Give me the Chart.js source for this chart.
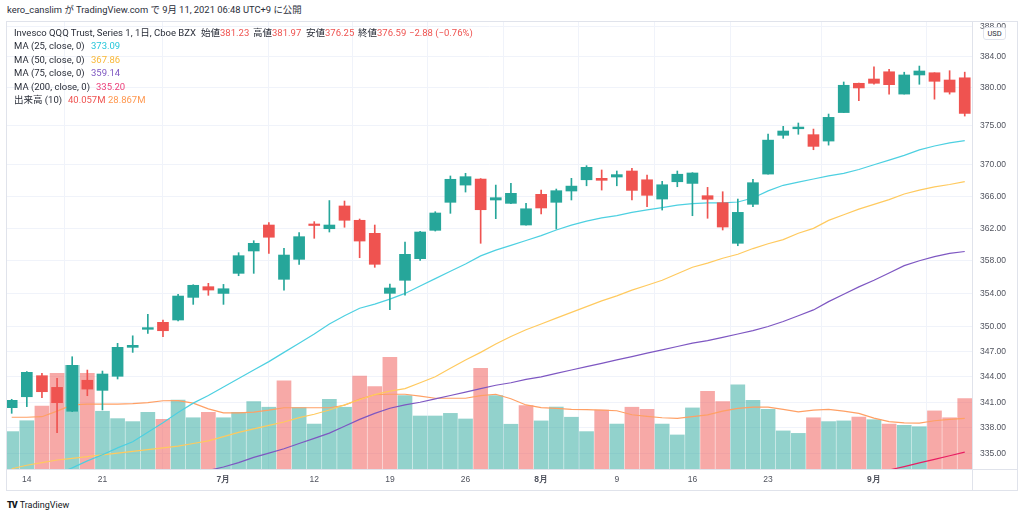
<!DOCTYPE html>
<html lang="ja">
<head>
  <meta charset="UTF-8">
  <title>QQQ 1日</title>
  <style>
    body { margin: 0; background: #fff; font-family: Roboto, "Noto Sans CJK JP", sans-serif; color: #131722; }
    #hdr { position: absolute; left: 7px; top: 4px; font-size: 9.4px; line-height: 12px; white-space: nowrap; color: #2a2e39; }
    #frame { position: absolute; left: 6px; top: 21px; width: 1010px; height: 468px; border: 1px solid #e0e3eb; }
    .hl { position: absolute; left: 7px; top: 469px; width: 1010px; height: 1px; background: #e0e3eb; }
    .vl { position: absolute; left: 972px; top: 22px; width: 1px; height: 468px; background: #e0e3eb; }
    #wrap { position: absolute; left: 7px; top: 22px; width: 1010px; height: 468px; }
    .lg { position: absolute; font-size: 9.5px; line-height: 12px; white-space: nowrap; color: #2a2e39; }
    #usd { position: absolute; left: 983px; top: 27px; width: 21px; height: 11px; border: 1px solid #e0e3eb; border-radius: 3px;
           font-size: 7.5px; line-height: 11px; text-align: center; color: #2a2e39; background: #fff; }
    #logo { position: absolute; left: 7px; top: 499px; font-size: 9px; line-height: 12px; white-space: nowrap; color: #131722; }
    #logo b { font-weight: 900; letter-spacing: -1px; margin-right: 3px; }
  </style>
</head>
<body>
  <div id="hdr">kero_canslim が TradingView.com で 9月 11, 2021 06:48 UTC+9 に公開</div>
  <div id="frame"></div>
  <div id="wrap"><canvas id="myChart"></canvas></div>
  <div class="hl"></div>
  <div class="vl"></div>
  <div id="usd">USD</div>

  <div class="lg" style="left:14px;top:27px">Invesco QQQ Trust, Series 1, 1日, Cboe BZX</div>
  <div class="lg" style="left:201px;top:27px">始値<span style="color:#ef5350">381.23</span></div>
  <div class="lg" style="left:253px;top:27px">高値<span style="color:#ef5350">381.97</span></div>
  <div class="lg" style="left:306px;top:27px">安値<span style="color:#ef5350">376.25</span></div>
  <div class="lg" style="left:358px;top:27px">終値<span style="color:#ef5350">376.59</span></div>
  <div class="lg" style="left:409px;top:27px;color:#ef5350">−2.88 (−0.76%)</div>

  <div class="lg" style="left:14px;top:40px">MA (25, close, 0)</div>
  <div class="lg" style="left:91px;top:40px;color:#26c6da">373.09</div>
  <div class="lg" style="left:14px;top:54px">MA (50, close, 0)</div>
  <div class="lg" style="left:91px;top:54px;color:#f9b838">367.86</div>
  <div class="lg" style="left:14px;top:67px">MA (75, close, 0)</div>
  <div class="lg" style="left:91px;top:67px;color:#7e57c2">359.14</div>
  <div class="lg" style="left:14px;top:81px">MA (200, close, 0)</div>
  <div class="lg" style="left:96px;top:81px;color:#ec407a">335.20</div>
  <div class="lg" style="left:14px;top:94px">出来高 (10)</div>
  <div class="lg" style="left:68px;top:94px;color:#ef5350">40.057M</div>
  <div class="lg" style="left:108px;top:94px;color:#ff9850">28.867M</div>

  <div id="logo"><b>TV</b>TradingView</div>

  <script src="https://cdn.jsdelivr.net/npm/chart.js"></script>
  <script>
    const dates = [
      '06-11', '06-14', '06-15', '06-16', '06-17', '06-18', '06-21', '06-22', '06-23', '06-24', '06-25',
      '06-28', '06-29', '06-30', '07-01', '07-02', '07-06', '07-07', '07-08', '07-09', '07-12', '07-13',
      '07-14', '07-15', '07-16', '07-19', '07-20', '07-21', '07-22', '07-23', '07-26', '07-27', '07-28',
      '07-29', '07-30', '08-02', '08-03', '08-04', '08-05', '08-06', '08-09', '08-10', '08-11', '08-12',
      '08-13', '08-16', '08-17', '08-18', '08-19', '08-20', '08-23', '08-24', '08-25', '08-26', '08-27',
      '08-30', '08-31', '09-01', '09-02', '09-03', '09-07', '09-08', '09-09', '09-10'
    ];
    const openP = [
      340.37, 341.65, 344.13, 342.75, 339.95, 343.59, 342.40, 344.06, 347.50, 349.66, 350.50,
      350.78, 353.52, 354.82, 354.00, 356.45, 359.20, 362.42, 355.72, 358.17, 362.51, 361.96,
      364.80, 363.01, 361.39, 354.01, 355.60, 358.25, 361.76, 365.26, 367.43, 368.19, 365.55,
      365.13, 362.42, 366.26, 365.26, 366.68, 368.10, 368.28, 368.45, 369.21, 368.10, 365.67,
      367.85, 367.64, 366.09, 365.21, 360.15, 365.01, 368.82, 373.77, 374.61, 373.85, 373.03,
      376.70, 380.51, 381.07, 382.02, 379.10, 381.60, 381.89, 380.94, 381.23
    ];
    const highP = [
      341.35, 344.62, 344.41, 343.82, 346.38, 344.80, 344.68, 347.98, 348.88, 351.47, 350.78,
      353.89, 355.06, 355.23, 355.10, 358.99, 360.47, 362.71, 359.53, 361.47, 362.84, 365.48,
      365.42, 363.17, 362.42, 355.15, 360.30, 361.64, 364.08, 368.58, 368.92, 368.25, 367.43,
      367.64, 365.13, 366.80, 366.93, 368.28, 369.89, 369.34, 369.21, 369.55, 368.70, 367.90,
      369.21, 369.00, 367.14, 366.59, 365.67, 368.16, 373.92, 374.92, 375.35, 374.57, 376.51,
      380.68, 380.55, 382.68, 382.34, 381.96, 382.77, 381.89, 382.16, 381.97
    ];
    const lowP = [
      339.71, 340.49, 341.54, 337.45, 339.90, 341.77, 340.10, 343.74, 346.90, 349.18, 348.77,
      350.66, 352.67, 353.77, 352.67, 356.16, 356.45, 358.91, 354.41, 357.56, 360.77, 361.55,
      362.14, 358.37, 357.19, 352.02, 353.80, 358.05, 361.67, 363.88, 366.55, 360.15, 363.21,
      365.10, 362.40, 363.79, 361.93, 365.55, 367.34, 366.80, 367.34, 365.55, 364.71, 364.29,
      367.22, 363.58, 363.26, 361.80, 359.85, 364.71, 368.80, 373.38, 373.90, 371.92, 372.51,
      376.70, 378.26, 380.38, 379.10, 379.10, 380.38, 378.44, 379.10, 376.25
    ];
    const closeP = [
      341.23, 344.53, 342.24, 340.95, 345.36, 342.55, 344.33, 347.50, 347.74, 349.86, 349.49,
      353.68, 354.99, 354.41, 354.57, 358.62, 360.15, 360.90, 358.70, 360.97, 362.36, 362.42,
      363.01, 360.43, 357.56, 354.66, 358.79, 361.55, 363.92, 368.16, 368.49, 364.33, 365.84,
      366.39, 364.45, 364.55, 366.72, 367.30, 369.68, 368.03, 368.75, 366.76, 366.14, 367.47,
      368.80, 368.96, 365.64, 362.17, 364.00, 367.73, 373.15, 374.32, 374.83, 372.35, 376.08,
      380.25, 379.90, 380.51, 380.33, 381.60, 382.12, 380.77, 379.36, 376.59
    ];
    // volume in millions, and bar colour as read (1 = up, 0 = down)
    const volume = [
      21.3, 27.5, 35.9, 54.5, 59.1, 54.5, 32.9, 28.7, 27.0, 32.3, 28.3,
      39.3, 29.2, 32.3, 29.2, 32.3, 38.4, 35.2, 50.3, 35.0, 25.6, 39.7,
      35.2, 53.0, 46.9, 63.6, 41.8, 30.2, 30.2, 31.7, 28.5, 57.4, 41.8,
      25.5, 36.1, 27.4, 35.3, 29.5, 21.3, 33.6, 25.6, 35.2, 34.0, 25.6,
      19.4, 34.8, 44.3, 38.4, 47.9, 39.1, 34.0, 21.7, 20.3, 29.2, 27.0,
      27.4, 29.6, 28.1, 25.6, 24.9, 24.1, 33.1, 29.2, 40.057
    ];
    const volUp = [
      1, 1, 0, 0, 1, 0, 1, 1, 1, 1, 0,
      1, 1, 0, 1, 1, 1, 1, 0, 1, 1, 1,
      1, 0, 0, 0, 1, 1, 1, 1, 1, 0, 1,
      1, 0, 1, 1, 1, 1, 0, 1, 0, 0, 1,
      1, 1, 0, 0, 1, 1, 1, 1, 1, 0, 1,
      1, 0, 1, 0, 1, 1, 0, 0, 0
    ];
    const ma25 = [
      null, null, null, 332.7, 333.4, 334.2, 334.9, 335.7, 336.4, 337.5, 338.6,
      339.8, 340.9, 341.8, 342.8, 343.8, 344.8, 345.8, 346.9, 348.0, 349.1, 350.3,
      351.3, 352.2, 352.7, 353.3, 354.0, 354.9, 355.8, 356.7, 357.6, 358.6, 359.3,
      359.9, 360.5, 361.1, 361.8, 362.4, 362.9, 363.3, 363.6, 364.0, 364.3, 364.6,
      364.9, 365.1, 365.2, 365.2, 365.3, 365.8, 366.7, 367.4, 367.8, 368.2, 368.6,
      368.9, 369.4, 370.0, 370.6, 371.2, 371.9, 372.4, 372.8, 373.09
    ];
    const ma50 = [
      333.3, 333.7, 334.0, 334.3, 334.5, 334.7, 334.9, 335.1, 335.3, 335.5, 335.7,
      335.9, 336.2, 336.5, 337.0, 337.5, 337.9, 338.3, 338.7, 339.2, 339.6, 340.1,
      340.7, 341.3, 341.9, 342.3, 342.6, 343.3, 344.0, 345.0, 346.0, 346.9, 347.9,
      348.8, 349.6, 350.3, 351.0, 351.7, 352.4, 353.1, 353.7, 354.4, 355.0, 355.6,
      356.4, 357.2, 357.7, 358.3, 358.8, 359.5, 360.1, 360.6, 361.4, 362.0, 363.0,
      363.7, 364.4, 365.0, 365.6, 366.3, 366.8, 367.2, 367.5, 367.86
    ];
    const ma75 = [
      null, null, null, null, null, null, null, null, null, null, null,
      null, 332.7, 333.1, 333.5, 334.0, 334.6, 335.1, 335.6, 336.2, 336.8, 337.4,
      338.2, 339.0, 339.7, 340.3, 340.7, 341.0, 341.4, 341.8, 342.2, 342.6, 343.0,
      343.3, 343.7, 344.0, 344.4, 344.8, 345.2, 345.6, 346.0, 346.4, 346.8, 347.2,
      347.6, 348.0, 348.3, 348.7, 349.1, 349.5, 350.0, 350.6, 351.3, 352.0, 353.0,
      353.9, 354.8, 355.6, 356.5, 357.4, 358.0, 358.5, 358.9, 359.14
    ];
    const ma200 = [
      null, null, null, null, null, null, null, null, null, null, null,
      null, null, null, null, null, null, null, null, null, null, null,
      null, null, null, null, null, null, null, null, null, null, null,
      null, null, null, null, null, null, null, null, null, null, null,
      null, null, null, null, null, null, null, null, null, null, null,
      null, null, 332.74, 333.15, 333.55, 333.97, 334.38, 334.79, 335.20
    ];
    const volMa = [
      29.5, 29.5, 29.8, 33.0, 36.5, 37.0, 37.0, 37.0, 37.3, 37.8, 38.9,
      39.0, 37.5, 34.3, 32.0, 32.0, 32.4, 33.5, 34.9, 34.9, 34.9, 34.9,
      36.3, 39.8, 42.3, 42.6, 42.6, 41.5, 40.3, 40.3, 40.3, 41.8, 42.6,
      40.0, 36.5, 35.0, 34.5, 34.0, 33.8, 33.6, 33.2, 30.9, 30.0, 29.2,
      28.9, 29.8, 30.8, 33.0, 34.5, 35.3, 35.3, 34.0, 32.6, 33.5, 34.0,
      33.0, 31.7, 29.0, 27.0, 26.3, 26.1, 27.5, 28.3, 28.87
    ];
    const priceTicks = [335, 338, 341, 344, 347, 350, 354, 358, 362, 366, 370, 375, 380, 384, 388];
    const tickDates = ['06-14', '06-21', '07-01', '07-12', '07-19', '07-26', '08-02', '08-09', '08-16', '08-23', '09-01'];
    const tickLabels = ['14', '21', '7月', '12', '19', '26', '8月', '9', '16', '23', '9月'];

    const UP = '#26a69a';
    const DOWN = '#ef5350';
    const tickIdx = tickDates.map(d => dates.indexOf(d));
    const candleColors = closeP.map((c, i) => c >= openP[i] ? UP : DOWN);
    const volColors = volUp.map(u => u ? 'rgba(38,166,154,0.5)' : 'rgba(239,83,80,0.5)');
    const pts = arr => arr.map((v, i) => v == null ? null : { x: i, y: v }).filter(p => p);

    const lineDs = (data, color, axis, order) => ({
      type: 'line', data: pts(data), borderColor: color, borderWidth: 1.2,
      pointRadius: 0, tension: 0, yAxisID: axis, order: order
    });

    const ctx = document.getElementById('myChart').getContext('2d');
    new Chart(ctx, {
      type: 'bar',
      data: {
        datasets: [
          {
            data: dates.map((d, i) => ({ x: i, y: [openP[i], closeP[i]] })),
            backgroundColor: candleColors, barThickness: 11, minBarLength: 1.5,
            grouped: false, yAxisID: 'y', order: 1
          },
          {
            data: dates.map((d, i) => ({ x: i, y: [lowP[i], highP[i]] })),
            backgroundColor: candleColors, barThickness: 1,
            grouped: false, yAxisID: 'y', order: 2
          },
          lineDs(ma25, '#4dd0e1', 'y', 5),
          lineDs(ma50, '#ffca5f', 'y', 6),
          lineDs(ma75, '#7e57c2', 'y', 7),
          lineDs(ma200, '#e91e63', 'y', 8),
          lineDs(volMa, '#ffa065', 'yv', 9),
          {
            data: volume.map((v, i) => ({ x: i, y: v })),
            backgroundColor: volColors, barThickness: 14,
            grouped: false, yAxisID: 'yv', order: 10
          }
        ]
      },
      options: {
        responsive: true,
        maintainAspectRatio: false,
        animation: false,
        layout: { padding: 0 },
        plugins: { legend: { display: false }, tooltip: { enabled: false } },
        scales: {
          x: {
            type: 'linear', min: -0.31, max: 63.48, offset: false,
            grid: { color: '#f0f3fa', drawTicks: false },
            border: { display: false },
            afterBuildTicks: s => { s.ticks = tickIdx.map(v => ({ value: v })); },
            ticks: {
              autoSkip: false, maxRotation: 0, padding: 6, color: '#50535e',
              font: c => ({ size: 8.5, weight: (tickLabels[c.index] || '').includes('月') ? 'bold' : 'normal' }),
              callback: (v, i) => tickLabels[i]
            },
            afterFit: s => { s.height = 21; s.paddingLeft = 0; s.paddingRight = 0; }
          },
          y: {
            type: 'logarithmic', position: 'right', min: 333.27, max: 388.61,
            grid: { color: '#f0f3fa', drawTicks: false },
            border: { display: false },
            afterBuildTicks: s => { s.ticks = priceTicks.map(v => ({ value: v })); },
            ticks: { padding: 8, color: '#50535e', font: { size: 8.5 }, callback: v => Number(v).toFixed(2) },
            afterFit: s => { s.width = 45; s.paddingTop = 0; s.paddingBottom = 0; }
          },
          yv: { type: 'linear', display: false, min: 0, max: 254.7 }
        }
      }
    });
  </script>
</body>
</html>
